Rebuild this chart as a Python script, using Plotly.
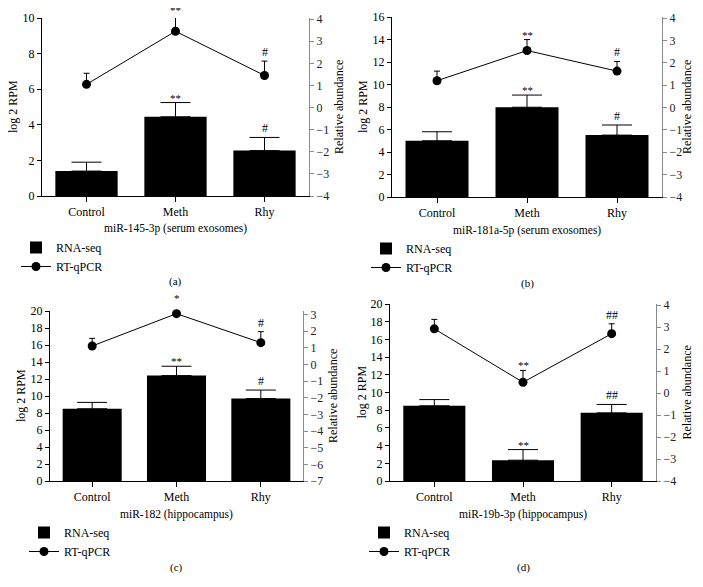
import plotly.graph_objects as go

W, H = 703, 587

categories = ["Control", "Meth", "Rhy"]

# Panel (a) miR-145-3p (serum exosomes)
a_seq = [1.4, 4.45, 2.55]
a_seq_err = [0.5, 0.8, 0.74]
a_qpcr = [1.05, 3.45, 1.45]
a_qpcr_err = [0.5, 0.75, 0.65]
a_seq_sig = ["", "**", "#"]
a_qpcr_sig = ["", "**", "#"]

# Panel (b) miR-181a-5p (serum exosomes)
b_seq = [5.0, 7.98, 5.5]
b_seq_err = [0.8, 1.08, 0.9]
b_qpcr = [1.2, 2.55, 1.63]
b_qpcr_err = [0.43, 0.49, 0.43]
b_seq_sig = ["", "**", "#"]
b_qpcr_sig = ["", "**", "#"]

# Panel (c) miR-182 (hippocampus)
c_seq = [8.5, 12.4, 9.7]
c_seq_err = [0.75, 1.1, 1.0]
c_qpcr = [1.1, 3.04, 1.3]
c_qpcr_err = [0.46, 0.66, 0.66]
c_seq_sig = ["", "**", "#"]
c_qpcr_sig = ["", "*", "#"]

# Panel (d) miR-19b-3p (hippocampus)
d_seq = [8.5, 2.35, 7.7]
d_seq_err = [0.7, 1.2, 0.95]
d_qpcr = [2.92, 0.49, 2.70]
d_qpcr_err = [0.43, 0.54, 0.45]
d_seq_sig = ["", "**", "##"]
d_qpcr_sig = ["", "**", "##"]

titles = ["miR-145-3p (serum exosomes)", "miR-181a-5p (serum exosomes)",
          "miR-182 (hippocampus)", "miR-19b-3p (hippocampus)"]
panel_labels = ["(a)", "(b)", "(c)", "(d)"]
left_ranges = [[0, 10], [0, 16], [0, 20], [0, 20]]
right_ranges = [[-4, 4.05], [-4, 4.05], [-7, 3.2], [-4, 4.05]]

FONT = "Liberation Serif"
OFFX, OFFY = 8, 8  # page body margin compensation
fx = lambda px: (px - OFFX) / W
fy = lambda py: 1 - (py - OFFY) / H

# pixel boxes: (x0, x1, ytop, ybottom)
boxes = [(42, 309, 18, 196), (392, 662, 17, 197), (50, 303, 311, 481), (390, 656, 304, 481)]

panels = [
    (a_seq, a_seq_err, a_qpcr, a_qpcr_err, a_seq_sig, a_qpcr_sig),
    (b_seq, b_seq_err, b_qpcr, b_qpcr_err, b_seq_sig, b_qpcr_sig),
    (c_seq, c_seq_err, c_qpcr, c_qpcr_err, c_seq_sig, c_qpcr_sig),
    (d_seq, d_seq_err, d_qpcr, d_qpcr_err, d_seq_sig, d_qpcr_sig),
]

fig = go.Figure()
layout = {}
annotations = []


def dom(v, r):
    return (v - r[0]) / (r[1] - r[0])


def sig_font(label):
    return dict(family=FONT, size=11 if "*" in label else 12, color="black")


def sig_shift(label):
    return -3 if "*" in label else 0


for i, (seq, seq_err, q, q_err, s_sig, q_sig) in enumerate(panels):
    n = i + 1
    xid = "x" if n == 1 else f"x{n}"
    yl = 2 * i + 1
    yr = 2 * i + 2
    ylid = "y" if yl == 1 else f"y{yl}"
    yrid = f"y{yr}"
    leg = "legend" if n == 1 else f"legend{n}"
    x0, x1, yt, yb = boxes[i]

    fig.add_trace(go.Bar(
        x=categories, y=seq, xaxis=xid, yaxis=ylid, name="RNA-seq",
        marker=dict(color="black", line=dict(width=0)), width=0.7,
        error_y=dict(type="data", symmetric=False, array=seq_err,
                     arrayminus=[0] * 3, color="black", thickness=1, width=15),
        legend=leg, showlegend=True, cliponaxis=False,
    ))
    fig.add_trace(go.Scatter(
        x=categories, y=q, xaxis=xid, yaxis=yrid, name="RT-qPCR",
        mode="lines+markers", line=dict(color="black", width=1),
        marker=dict(color="black", size=9),
        error_y=dict(type="data", symmetric=False, array=q_err,
                     arrayminus=[0] * 3, color="black", thickness=1, width=3),
        legend=leg, showlegend=True, cliponaxis=False,
    ))

    xkey = "xaxis" if n == 1 else f"xaxis{n}"
    ylkey = "yaxis" if yl == 1 else f"yaxis{yl}"
    yrkey = f"yaxis{yr}"
    layout[xkey] = dict(
        domain=[fx(x0), fx(x1)], anchor=ylid, type="category", range=[-0.5, 2.5],
        showline=True, linecolor="black", linewidth=1, ticks="outside", ticklen=5,
        tickcolor="black", showgrid=False, zeroline=False,
        tickfont=dict(family=FONT, size=12, color="black"),
    )
    layout[ylkey] = dict(
        domain=[fy(yb), fy(yt)], anchor=xid, range=left_ranges[i], dtick=2,
        showline=True, linecolor="black", linewidth=1, ticks="outside", ticklen=4,
        tickcolor="black", showgrid=False, zeroline=False,
        tickfont=dict(family=FONT, size=12, color="black"),
    )
    layout[yrkey] = dict(
        domain=[fy(yb), fy(yt)], anchor=xid, overlaying=ylid, side="right",
        range=right_ranges[i], tick0=0, dtick=1,
        showline=True, linecolor="#8a8a8a", linewidth=1, ticks="outside", ticklen=4,
        tickcolor="#8a8a8a", showgrid=False, zeroline=False,
        tickfont=dict(family=FONT, size=12, color="#222222"),
    )
    layout[leg] = dict(
        x=fx(x0 - 26), y=fy(yb + 37), xanchor="left", yanchor="top",
        bgcolor="rgba(0,0,0,0)", font=dict(family=FONT, size=12, color="black"),
        tracegroupgap=0, itemwidth=30, traceorder="normal",
    )

    # significance labels
    for k in range(3):
        if s_sig[k]:
            annotations.append(dict(x=categories[k], y=dom(seq[k] + seq_err[k], left_ranges[i]),
                                    xref=xid, yref=f"{ylid} domain",
                                    text=s_sig[k], showarrow=False, yanchor="bottom",
                                    yshift=sig_shift(s_sig[k]), font=sig_font(s_sig[k])))
        if q_sig[k]:
            annotations.append(dict(x=categories[k], y=dom(q[k] + q_err[k], right_ranges[i]),
                                    xref=xid, yref=f"{yrid} domain",
                                    text=q_sig[k], showarrow=False, yanchor="bottom",
                                    yshift=sig_shift(q_sig[k]), font=sig_font(q_sig[k])))

    # axis titles and panel label
    annotations.append(dict(x=fx(x0 - 29), y=fy((yt + yb) / 2), xref="paper", yref="paper",
                            text="log 2 RPM", textangle=-90, showarrow=False,
                            xanchor="center", yanchor="middle",
                            font=dict(family=FONT, size=12, color="black")))
    annotations.append(dict(x=fx(min(x1 + 30, 687)), y=fy((yt + yb) / 2), xref="paper", yref="paper",
                            text="Relative abundance", textangle=-90, showarrow=False,
                            xanchor="center", yanchor="middle",
                            font=dict(family=FONT, size=12, color="black")))
    annotations.append(dict(x=fx((x0 + x1) / 2), y=fy(yb + 33), xref="paper", yref="paper",
                            text=titles[i], showarrow=False, xanchor="center", yanchor="middle",
                            font=dict(family=FONT, size=11.5, color="black")))
    annotations.append(dict(x=fx((x0 + x1) / 2), y=fy(yb + 86), xref="paper", yref="paper",
                            text=panel_labels[i], showarrow=False, xanchor="center", yanchor="middle",
                            font=dict(family=FONT, size=11, color="black")))

fig.update_layout(
    width=W, height=H, margin=dict(l=0, r=0, t=0, b=0, autoexpand=False),
    paper_bgcolor="white", plot_bgcolor="white",
    bargap=0.3, annotations=annotations, **layout,
)

fig.write_html("out.html")
